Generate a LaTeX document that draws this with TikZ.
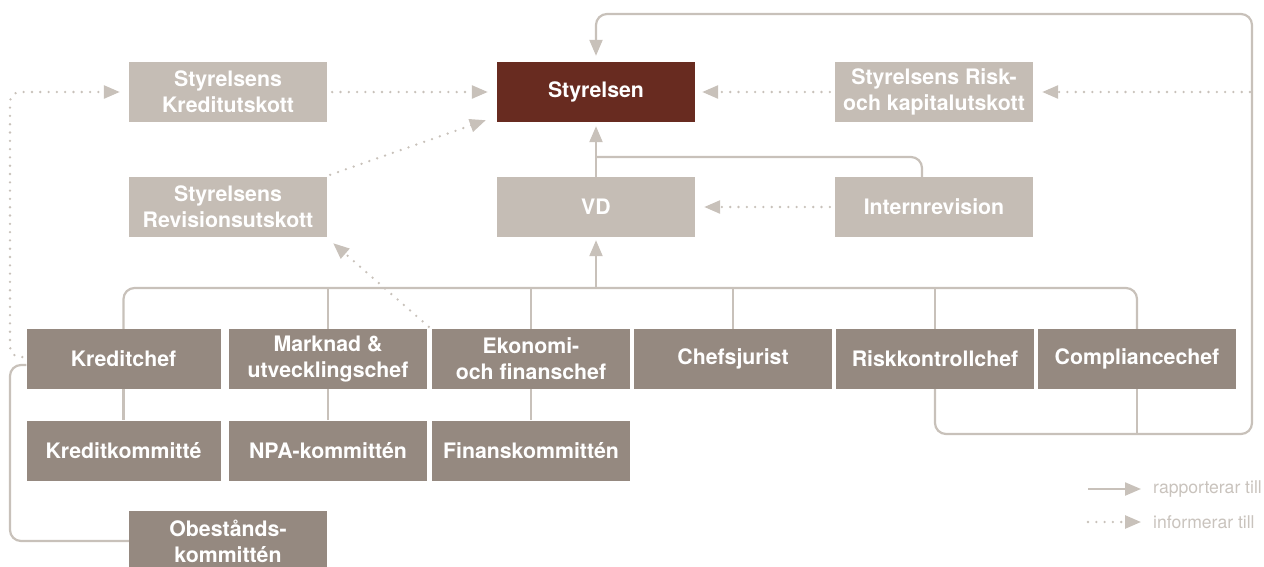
\documentclass[tikz,border=0pt]{standalone}
\usepackage{fontspec}
\setmainfont{TeX Gyre Heros}
\usetikzlibrary{arrows.meta,calc}
\definecolor{lightbox}{HTML}{C5BDB5}
\definecolor{darkbox}{HTML}{958980}
\definecolor{redbox}{HTML}{682B20}
\definecolor{linec}{HTML}{C8C1BA}
\definecolor{legtext}{HTML}{C9C3BD}
\tikzset{
  box/.style={minimum width=198pt, minimum height=60pt, inner sep=0pt, text=white,
    font=\fontsize{21.3}{26}\selectfont\bfseries, align=center},
  lbox/.style={box, fill=lightbox},
  dbox/.style={box, fill=darkbox},
  rbox/.style={box, fill=redbox},
  conn/.style={draw=linec, line width=2.2pt},
  report/.style={conn, -{Triangle[length=16pt,width=13pt]}},
  info/.style={draw=linec, line width=2.6pt, line cap=round, dash pattern=on 0pt off 8.3pt, -{Triangle[length=16pt,width=13pt]}},
  legend/.style={text=legtext, font=\fontsize{17.6}{21}\selectfont, anchor=west, inner sep=0pt}
}
\begin{document}
\begin{tikzpicture}[x=1pt,y=-1pt]
\useasboundingbox (0,0) rectangle (1264,566);
% row 1
\node[lbox] (kredu) at (228,92) {Styrelsens\\Kreditutskott};
\node[rbox] (styr) at (596,92) {Styrelsen};
\node[lbox] (risku) at (934,92) {Styrelsens Risk-\\och kapitalutskott};
% row 2
\node[lbox] (revu) at (228,207) {Styrelsens\\Revisionsutskott};
\node[lbox] (vd) at (596,207) {VD};
\node[lbox] (intrev) at (934,207) {Internrevision};
% row 3
\node[dbox, minimum width=194pt] (kredc) at (123.5,359) {Kreditchef};
\node[dbox] (markn) at (328,359) {Marknad \&\\utvecklingschef};
\node[dbox] (ekon) at (531,359) {Ekonomi-\\och finanschef};
\node[dbox] (chefj) at (733,359) {Chefsjurist};
\node[dbox] (riskk) at (935,359) {Riskkontrollchef};
\node[dbox] (compl) at (1137,359) {Compliancechef};
% row 4
\node[dbox, minimum width=194pt] (kredk) at (123.5,450.5) {Kreditkommitté};
\node[dbox] (npa) at (328,450.5) {NPA-kommittén};
\node[dbox] (finans) at (531,450.5) {Finanskommittén};
\node[dbox] (obest) at (228,541) {Obestånds-\\kommittén};

% coordinates
\coordinate (bus) at (596,288);
\coordinate (rb) at (1252,434);
\coordinate (rt) at (1252,14);
\coordinate (ll) at (10,92);
\coordinate (irj) at (596,157);

% dotted to Styrelsen
\draw[info, shorten <=5pt, shorten >=9pt] (kredu.east) -- (styr.west);
\draw[info, shorten <=5pt, shorten >=7pt] (risku.west) -- (styr.east);
\draw[info] ($(revu.north east)+(3,-2)$) -- ($(styr.south west)+(-11,-2)$);
% right loop
\draw[report, rounded corners=11pt, shorten >=6pt] (riskk.south) |- (rb) -- (rt) -| (styr.north);
\draw[conn] (compl.south) -- (compl.south |- rb);
\draw[info, shorten <=2pt, shorten >=9pt] (rt |- risku) -- (risku.east);
% bus
\draw[conn, rounded corners=11pt] (kredc.north) |- (bus) -| (compl.north);
\draw[conn] (markn.north) -- (markn.north |- bus);
\draw[conn] (ekon.north) -- (ekon.north |- bus);
\draw[conn] (chefj.north) -- (chefj.north |- bus);
\draw[conn] (riskk.north) -- (riskk.north |- bus);
\draw[report, shorten >=3pt] (bus) -- (vd.south);
% VD and internrevision to Styrelsen
\draw[report, shorten >=4pt] (vd.north) -- (styr.south);
\draw[conn, rounded corners=11pt] ($(intrev.north)+(-12,0)$) |- (irj);
\draw[info, shorten <=5pt, shorten >=9pt] (intrev.west) -- (vd.east);
% Ekonomi to Revisionsutskott
\draw[info] ($(ekon.north west)+(-3,-2)$) -- ($(revu.south east)+(6,6)$);
% Kreditchef to Kreditutskott
\draw[info, rounded corners=10pt, shorten >=9pt] ($(kredc.west)+(-4,-2)$) -| (ll) -- (kredu.west);
% Obestands to Kreditchef
\draw[conn, rounded corners=11pt] (obest.west) -| ($(ll)+(0,273)$) -- ($(kredc.west)+(0,6)$);
% row 3 to row 4
\draw[conn] (kredc.south) -- (kredk.north);
\draw[conn] (markn.south) -- (npa.north);
\draw[conn] (ekon.south) -- (finans.north);
% legend
\coordinate (l1a) at (1088,489);
\coordinate (l1b) at (1141,489);
\coordinate (l2a) at (1088,522);
\coordinate (l2b) at (1141,522);
\draw[report] (l1a) -- (l1b);
\draw[info] (l2a) -- (l2b);
\node[legend] (lt1) at (1153,489) {rapporterar till};
\node[legend] (lt2) at (1153,522) {informerar till};
\end{tikzpicture}
\end{document}
